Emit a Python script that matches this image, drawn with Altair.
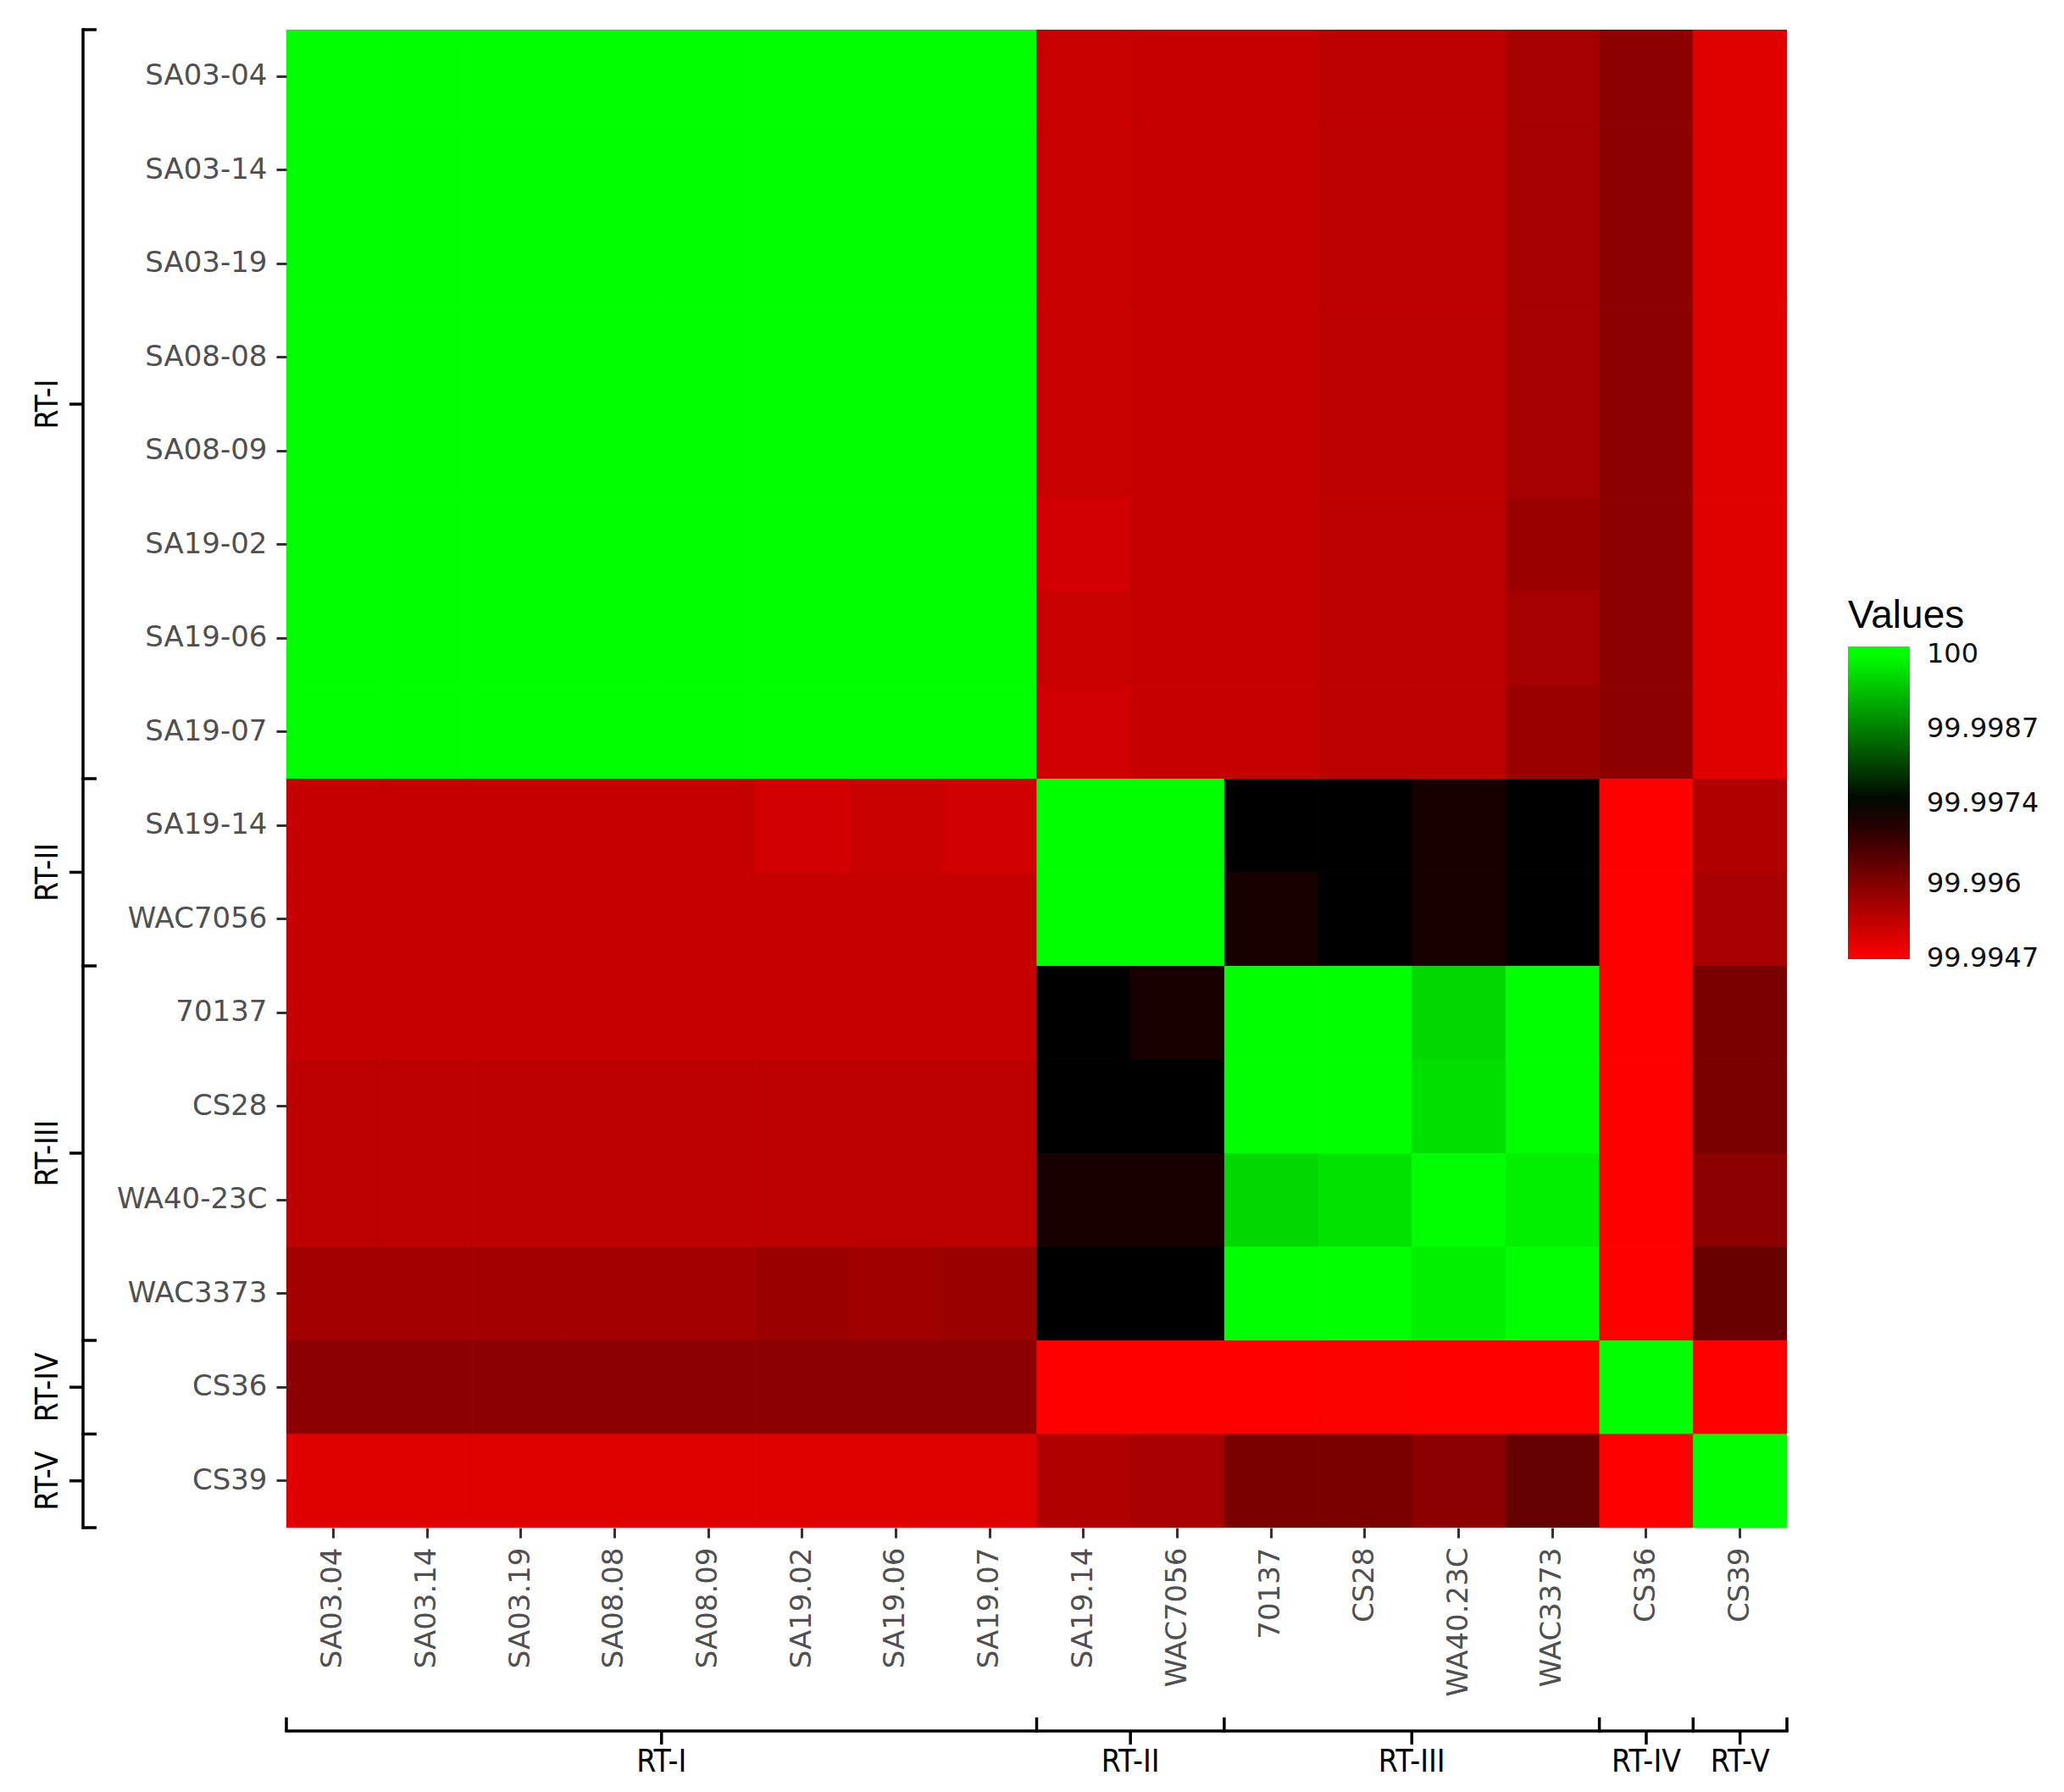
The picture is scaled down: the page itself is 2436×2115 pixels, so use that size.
import altair as alt
import pandas as pd

# ---------------- data ----------------
row_labels = ["SA03-04", "SA03-14", "SA03-19", "SA08-08", "SA08-09", "SA19-02",
              "SA19-06", "SA19-07", "SA19-14", "WAC7056", "70137", "CS28",
              "WA40-23C", "WAC3373", "CS36", "CS39"]
col_labels = ["SA03.04", "SA03.14", "SA03.19", "SA08.08", "SA08.09", "SA19.02",
              "SA19.06", "SA19.07", "SA19.14", "WAC7056", "70137", "CS28",
              "WA40.23C", "WAC3373", "CS36", "CS39"]

row_SA03_04 = [100, 100, 100, 100, 100, 100, 100, 100, 99.99528, 99.9953, 99.9953, 99.99541, 99.99541, 99.99564, 99.99592, 99.99503]
row_SA03_14 = [100, 100, 100, 100, 100, 100, 100, 100, 99.99528, 99.9953, 99.9953, 99.99541, 99.99541, 99.99564, 99.99592, 99.99503]
row_SA03_19 = [100, 100, 100, 100, 100, 100, 100, 100, 99.99528, 99.9953, 99.9953, 99.99541, 99.99541, 99.99564, 99.99592, 99.99503]
row_SA08_08 = [100, 100, 100, 100, 100, 100, 100, 100, 99.99528, 99.9953, 99.9953, 99.99541, 99.99541, 99.99564, 99.99592, 99.99503]
row_SA08_09 = [100, 100, 100, 100, 100, 100, 100, 100, 99.99528, 99.9953, 99.9953, 99.99541, 99.99541, 99.99564, 99.99592, 99.99503]
row_SA19_02 = [100, 100, 100, 100, 100, 100, 100, 100, 99.99518, 99.9953, 99.9953, 99.99541, 99.99541, 99.99577, 99.99592, 99.99503]
row_SA19_06 = [100, 100, 100, 100, 100, 100, 100, 100, 99.99528, 99.9953, 99.9953, 99.99541, 99.99541, 99.99564, 99.99592, 99.99503]
row_SA19_07 = [100, 100, 100, 100, 100, 100, 100, 100, 99.9952, 99.9953, 99.9953, 99.99541, 99.99541, 99.99577, 99.99592, 99.99503]
row_SA19_14 = [99.9953, 99.9953, 99.9953, 99.9953, 99.9953, 99.99518, 99.99525, 99.9952, 100, 100, 99.9974, 99.9974, 99.99715, 99.9974, 99.9947, 99.99554]
row_WAC7056 = [99.9953, 99.9953, 99.9953, 99.9953, 99.9953, 99.9953, 99.9953, 99.9953, 100, 100, 99.99715, 99.9974, 99.99715, 99.9974, 99.9947, 99.99562]
row_70137 = [99.9953, 99.9953, 99.9953, 99.9953, 99.9953, 99.9953, 99.9953, 99.9953, 99.9974, 99.99715, 100, 100, 99.9996, 100, 99.9947, 99.99613]
row_CS28 = [99.99541, 99.99541, 99.99541, 99.99541, 99.99541, 99.99541, 99.99541, 99.99541, 99.9974, 99.9974, 100, 100, 99.99968, 100, 99.9947, 99.99613]
row_WA40_23C = [99.99541, 99.99541, 99.99541, 99.99541, 99.99541, 99.99541, 99.99541, 99.99541, 99.99715, 99.99715, 99.9996, 99.9997, 100, 99.99985, 99.9947, 99.99592]
row_WAC3373 = [99.99567, 99.99567, 99.99567, 99.99567, 99.99567, 99.99577, 99.9957, 99.99577, 99.9974, 99.9974, 100, 100, 99.99985, 100, 99.9947, 99.9963]
row_CS36 = [99.99592, 99.99592, 99.99592, 99.99592, 99.99592, 99.99592, 99.99592, 99.99592, 99.9947, 99.9947, 99.9947, 99.99475, 99.9947, 99.9947, 100, 99.9947]
row_CS39 = [99.99503, 99.99503, 99.99503, 99.99503, 99.99503, 99.99503, 99.99503, 99.99503, 99.99554, 99.99562, 99.99613, 99.99613, 99.99592, 99.99634, 99.9947, 100]

matrix_rows = [row_SA03_04, row_SA03_14, row_SA03_19, row_SA08_08, row_SA08_09,
               row_SA19_02, row_SA19_06, row_SA19_07, row_SA19_14, row_WAC7056,
               row_70137, row_CS28, row_WA40_23C, row_WAC3373, row_CS36, row_CS39]

group_names = ["RT-I", "RT-II", "RT-III", "RT-IV", "RT-V"]
group_sizes = [8, 2, 4, 1, 1]

legend_values = [99.9947, 99.996, 99.9974, 99.9987, 100]
# colourbar limits slightly wider than the labelled breaks, as in the original bar
color_domain = [99.99469, 99.9947, 99.9974, 100, 100.00013]
color_range = ["#ff0000", "#ff0000", "#000000", "#00ff00", "#00ff00"]

# ---------------- tables ----------------
heat_records = []
for r_lab, vals in zip(row_labels, matrix_rows):
    for c_lab, v in zip(col_labels, vals):
        heat_records.append({"row": r_lab, "col": c_lab, "value": v})
heat_df = pd.DataFrame(heat_records)

starts, ends = [], []
acc = 0
for s in group_sizes:
    starts.append(acc)
    acc += s
    ends.append(acc)
group_df = pd.DataFrame({
    "name": group_names,
    "start": starts,
    "end": ends,
    "mid": [(a + b) / 2 for a, b in zip(starts, ends)],
})
bound_df = pd.DataFrame({"pos": sorted(set(starts + ends))})

# ---------------- layout ----------------
W, H = 1771, 1768
FONT_LAB = "DejaVu Sans"
FONT_GRP = "Liberation Sans Narrow, DejaVu Sans Condensed, Arial Narrow, sans-serif"
LW = 3.5

xq = alt.Scale(domain=[0, 16], nice=False, zero=False)
yq = alt.Scale(domain=[0, 16], nice=False, zero=False, reverse=True)

axis_common = dict(
    title=None, domain=False, grid=False,
    labelFont=FONT_LAB, labelFontSize=34, labelColor="#505050",
    tickColor="#333333", tickWidth=3, tickSize=12, labelPadding=11,
)

heat = alt.Chart(heat_df).mark_rect().encode(
    x=alt.X("col:N", sort=col_labels,
            scale=alt.Scale(paddingInner=0, paddingOuter=0),
            axis=alt.Axis(labelAngle=270, labelAlign="right", labelBaseline="middle",
                          **axis_common)),
    y=alt.Y("row:N", sort=row_labels,
            scale=alt.Scale(paddingInner=0, paddingOuter=0),
            axis=alt.Axis(**axis_common)),
    color=alt.Color(
        "value:Q",
        scale=alt.Scale(domain=color_domain, range=color_range,
                        interpolate="rgb", nice=False, zero=False, clamp=True),
        legend=alt.Legend(
            type="gradient",
            title="Values", orient="none", legendX=1843, legendY=670,
            direction="vertical", gradientLength=369, gradientThickness=73,
            gradientStrokeWidth=0, values=legend_values, format=".4~f",
            titleFont="Liberation Sans", titleFontSize=46, titleFontWeight="normal",
            titleColor="#000000", titlePadding=12,
            labelFont=FONT_LAB, labelFontSize=32, labelColor="#111111",
            labelOffset=20, labelOverlap=False, padding=0,
        ),
    ),
)
# drawn three times so the anti-aliased seams between neighbouring cells disappear
heat_group = alt.layer(heat, heat, heat)

# left brackets (rows)
left_vert = alt.Chart(group_df).mark_rule(color="black", strokeWidth=LW, strokeCap="square").encode(
    y=alt.Y("start:Q", scale=yq, axis=None), y2="end:Q", x=alt.value(-240))
left_end = alt.Chart(bound_df).mark_rule(color="black", strokeWidth=LW).encode(
    y=alt.Y("pos:Q", scale=yq, axis=None), x=alt.value(-240), x2=alt.value(-224))
left_mid = alt.Chart(group_df).mark_rule(color="black", strokeWidth=LW).encode(
    y=alt.Y("mid:Q", scale=yq, axis=None), x=alt.value(-256), x2=alt.value(-240))
left_text = alt.Chart(group_df).mark_text(
    angle=270, font=FONT_GRP, fontSize=37, align="center", baseline="middle", color="black"
).encode(y=alt.Y("mid:Q", scale=yq, axis=None), x=alt.value(-281), text="name:N")

# bottom brackets (columns)
bot_horiz = alt.Chart(group_df).mark_rule(color="black", strokeWidth=LW, strokeCap="square").encode(
    x=alt.X("start:Q", scale=xq, axis=None), x2="end:Q", y=alt.value(H + 240))
bot_end = alt.Chart(bound_df).mark_rule(color="black", strokeWidth=LW).encode(
    x=alt.X("pos:Q", scale=xq, axis=None), y=alt.value(H + 224), y2=alt.value(H + 240))
bot_mid = alt.Chart(group_df).mark_rule(color="black", strokeWidth=LW).encode(
    x=alt.X("mid:Q", scale=xq, axis=None), y=alt.value(H + 240), y2=alt.value(H + 256))
bot_text = alt.Chart(group_df).mark_text(
    font=FONT_GRP, fontSize=37, align="center", baseline="middle", color="black"
).encode(x=alt.X("mid:Q", scale=xq, axis=None), y=alt.value(H + 277), text="name:N")

chart = alt.layer(
    heat_group, left_vert, left_end, left_mid, left_text,
    bot_horiz, bot_end, bot_mid, bot_text,
).resolve_scale(
    x="independent", y="independent"
).properties(
    width=W, height=H,
    padding={"left": 30, "top": 24, "right": 5, "bottom": 5},
    background="white",
).configure_view(strokeWidth=0)

chart.save("out.html", embed_options={"renderer": "svg", "actions": False})
